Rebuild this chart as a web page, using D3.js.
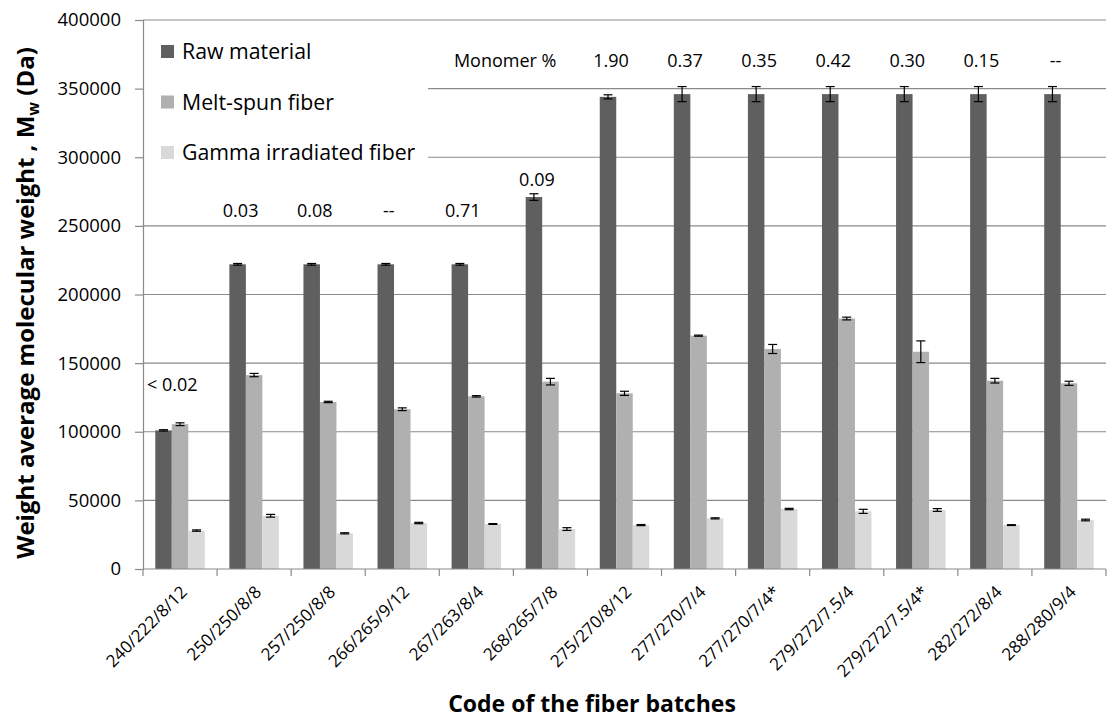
<!DOCTYPE html>
<html><head><meta charset="utf-8">
<script src="https://cdn.jsdelivr.net/npm/d3@7"></script>
<style>body{margin:0;background:#fff}svg{display:block}text{font-family:"Open Sans",sans-serif}</style>
</head><body><svg id="c" width="1107" height="720"></svg>
<script>
const categories = ["240/222/8/12","250/250/8/8","257/250/8/8","266/265/9/12","267/263/8/4","268/265/7/8","275/270/8/12","277/270/7/4","277/270/7/4*","279/272/7.5/4","279/272/7.5/4*","282/272/8/4","288/280/9/4"];
const seriesNames = ["Raw material","Melt-spun fiber","Gamma irradiated fiber"];
const raw      = [101000,222000,222000,222000,222000,271000,344000,346000,346000,346000,346000,346000,346000];
const rawErr   = [500,600,600,600,600,2400,1500,5500,5500,5500,5500,5500,5500];
const melt     = [105500,141300,121700,116400,125800,136500,128000,170000,160300,182500,158300,137200,135300];
const meltErr  = [1000,1200,500,1000,500,2400,1500,400,3300,1000,7900,1700,1500];
const gamma    = [28000,38800,26000,33500,32800,29100,32000,36900,43700,42000,43000,32000,35700];
const gammaErr = [500,1000,400,500,300,1000,400,400,500,1500,1000,300,600];
const monomer  = ["< 0.02","0.03","0.08","--","0.71","0.09","1.90","0.37","0.35","0.42","0.30","0.15","--"];
const monomerLevel = [134000,260800,260800,260800,260800,283400,370000,370000,370000,370000,370000,370000,370000];
const yTicks = [0,50000,100000,150000,200000,250000,300000,350000,400000];
const colors = ["#5f5f5f","#b0b0b0","#d9d9d9"];

const svg = d3.select("#c");
const m = {l:143, r:1106, t:20, b:569};
const x = d3.scaleBand().domain(categories).range([m.l, m.r]).paddingInner(0).paddingOuter(0);
const xs = d3.scaleBand().domain([0,1,2]).range([0, x.bandwidth()]).paddingInner(0).paddingOuter(0.745);
const y = d3.scaleLinear().domain([0,400000]).range([m.b, m.t]);
const grey = "#8a8a8a";

// gridlines
svg.append("g").selectAll("line").data(yTicks.filter(d=>d>0)).join("line")
  .attr("x1", m.l).attr("x2", m.r).attr("y1", d=>y(d)).attr("y2", d=>y(d))
  .attr("stroke", grey).attr("stroke-width",1.2);

// legend background box
svg.append("rect").attr("x", m.l+1).attr("y", y(392000)).attr("width", 428-m.l-1).attr("height", y(270000)-y(392000)).attr("fill","#fff");

// bars
const series = [raw, melt, gamma];
const errs = [rawErr, meltErr, gammaErr];
const gBars = svg.append("g");
series.forEach((vals, s) => {
  gBars.selectAll(null).data(vals).join("rect")
    .attr("x", (d,i)=> x(categories[i]) + xs(s))
    .attr("width", xs.bandwidth())
    .attr("y", d=>y(d)).attr("height", d=>m.b - y(d))
    .attr("fill", colors[s]);
});
// error bars
const gErr = svg.append("g").attr("stroke","#000").attr("stroke-width",1.2);
series.forEach((vals, s) => {
  vals.forEach((v,i) => {
    const cx = x(categories[i]) + xs(s) + xs.bandwidth()/2;
    const e = errs[s][i];
    gErr.append("line").attr("x1",cx).attr("x2",cx).attr("y1",y(v+e)).attr("y2",y(v-e));
    gErr.append("line").attr("x1",cx-4.5).attr("x2",cx+4.5).attr("y1",y(v+e)).attr("y2",y(v+e));
    gErr.append("line").attr("x1",cx-4.5).attr("x2",cx+4.5).attr("y1",y(v-e)).attr("y2",y(v-e));
  });
});

// axes
const yAxis = d3.axisLeft(y).tickValues(yTicks).tickSize(8).tickPadding(14).tickFormat(d3.format("d"));
const ga = svg.append("g").attr("transform",`translate(${m.l},0)`).call(yAxis);
ga.select(".domain").attr("stroke",grey).attr("stroke-width",1.2);
ga.selectAll(".tick line").attr("stroke",grey).attr("stroke-width",1.2);
ga.selectAll(".tick text").attr("font-size",18.5).attr("fill","#000").style("font-family","Open Sans");

svg.append("line").attr("x1",m.l).attr("x2",m.r).attr("y1",m.b).attr("y2",m.b).attr("stroke",grey).attr("stroke-width",1.2);
svg.append("g").selectAll("line").data(categories.concat(["end"])).join("line")
  .attr("x1",(d,i)=> m.l + i*x.step()).attr("x2",(d,i)=> m.l + i*x.step())
  .attr("y1",m.b).attr("y2",m.b+7).attr("stroke",grey).attr("stroke-width",1.2);

svg.append("g").selectAll("text").data(categories).join("text")
  .attr("transform", d=>`translate(${x(d)+x.bandwidth()/2+4},${m.b+20}) rotate(-45)`)
  .attr("text-anchor","end").attr("dy","0.35em").attr("font-size",17).attr("fill","#000")
  .text(d=>d);

// monomer annotations
svg.append("g").selectAll("text").data(monomer).join("text")
  .attr("x",(d,i)=> i===0 ? x(categories[i]) + 4 : x(categories[i]) + xs(0) + xs.bandwidth()/2 + 3)
  .attr("y",(d,i)=> y(monomerLevel[i]))
  .attr("text-anchor",(d,i)=> i===0 ? "start" : "middle")
  .attr("dy","0.35em").attr("font-size",18).attr("fill","#000").text(d=>d);
svg.append("text").attr("x", x(categories[6]) - 31).attr("y", y(370000)).attr("dy","0.35em")
  .attr("text-anchor","end").attr("font-size",18).attr("fill","#000").text("Monomer %");

// legend
const lg = svg.append("g").attr("transform","translate(161,52)");
seriesNames.forEach((n,i)=>{
  const g = lg.append("g").attr("transform",`translate(0,${i*50.5})`);
  g.append("rect").attr("x",0).attr("y",-7).attr("width",13).attr("height",13).attr("fill",colors[i]);
  g.append("text").attr("x",21).attr("dy","0.35em").attr("font-size",21.3).attr("fill","#000").text(n);
});

// axis titles
const yt = svg.append("text").attr("transform",`translate(34,303) rotate(-90)`)
  .attr("text-anchor","middle").attr("font-size",24).attr("font-weight","bold").attr("fill","#000");
yt.append("tspan").text("Weight average molecular weight , M");
yt.append("tspan").attr("font-size",16).attr("dy",5).text("w");
yt.append("tspan").attr("dy",-5).text(" (Da)");

svg.append("text").attr("x",592).attr("y",712).attr("text-anchor","middle")
  .attr("font-size",23).attr("font-weight","bold").attr("fill","#000").text("Code of the fiber batches");
</script></body></html>
